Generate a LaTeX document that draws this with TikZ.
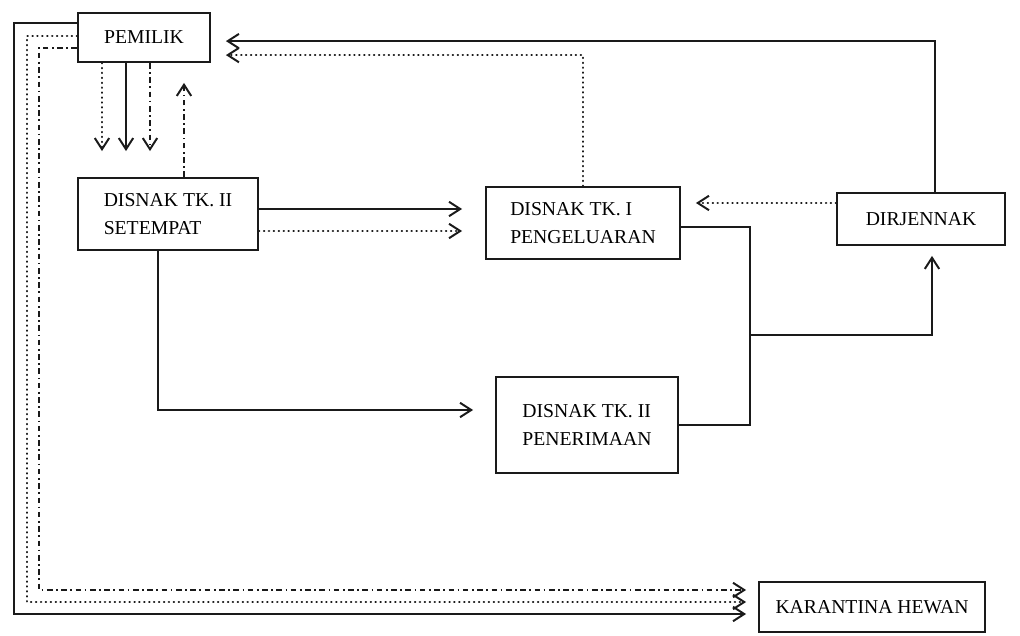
\documentclass[tikz,border=0pt]{standalone}
\usepackage{fontspec}
\setmainfont{Liberation Serif}
\usetikzlibrary{arrows.meta,calc}
\definecolor{inkBlack}{HTML}{1A1A1A}
\tikzset{
  orgbox/.style={rectangle, draw=inkBlack, line width=1.3pt, align=left, font=\fontsize{14}{20}\selectfont, inner sep=2pt},
  plainline/.style={draw=inkBlack, line width=1.2pt},
  solidflow/.style={plainline, -{Straight Barb[length=2.8mm,width=3.6mm,line width=1.4pt]}},
  dotflow/.style={solidflow, line width=1.5pt, line cap=round, dash pattern=on 0.3pt off 3.2pt},
  dashflow/.style={solidflow, dash pattern=on 4pt off 2.5pt on 1.2pt off 2.5pt},
}
\begin{document}
\begin{tikzpicture}[x=0.025cm,y=-0.025cm]
  \useasboundingbox (0,0) rectangle (1020,636);

  % --- boxes ---
  \node[orgbox, align=center, minimum width=3.3cm, minimum height=1.225cm] (pemilik) at (144,37.5) {PEMILIK};
  \node[orgbox, minimum width=4.5cm, minimum height=1.8cm] (setempat) at (168,214) {DISNAK TK. II\\SETEMPAT};
  \node[orgbox, minimum width=4.85cm, minimum height=1.8cm] (pengeluaran) at (583,223) {DISNAK TK. I\\PENGELUARAN};
  \node[orgbox, minimum width=4.2cm, minimum height=1.3cm] (dirjennak) at (921,219) {DIRJENNAK};
  \node[orgbox, minimum width=4.55cm, minimum height=2.4cm] (penerimaan) at (587,425) {DISNAK TK. II\\PENERIMAAN};
  \node[orgbox, minimum width=5.65cm, minimum height=1.25cm] (karantina) at (872,607) {KARANTINA HEWAN};

  % --- pemilik <-> setempat ---
  \foreach \dx/\sty in {-1.05/dotflow, -0.45/solidflow, 0.15/dashflow} {
    \coordinate (down) at ([xshift=\dx cm]pemilik.south);
    \draw[\sty, shorten >=0.65cm] (down) -- (down |- setempat.north);
  }
  \coordinate (up) at ([xshift=0.4cm]setempat.north);
  \draw[dashflow, shorten >=0.5cm] (up) -- (up |- pemilik.south);

  % --- setempat -> pengeluaran ---
  \coordinate (s1) at ([yshift=0.125cm]setempat.east);
  \coordinate (s2) at ([yshift=-0.425cm]setempat.east);
  \draw[solidflow, shorten >=0.575cm] (s1) -- (s1 -| pengeluaran.west);
  \draw[dotflow, shorten >=0.575cm] (s2) -- (s2 -| pengeluaran.west);

  % --- back to pemilik ---
  \coordinate (p1) at ([yshift=-0.44cm]pemilik.east);
  \coordinate (p2) at ([yshift=-0.09cm]pemilik.east);
  \coordinate (d1) at ([xshift=0.35cm]dirjennak.north);
  \draw[dotflow, shorten >=0.375cm] (pengeluaran.north) |- (p1);
  \draw[solidflow, shorten >=0.375cm] (d1) |- (p2);

  % --- dirjennak -> pengeluaran ---
  \coordinate (d2) at ([yshift=0.4cm]dirjennak.west);
  \draw[dotflow, shorten >=0.375cm] (d2) -- (d2 -| pengeluaran.east);

  % --- reports up to dirjennak ---
  \coordinate (mrg) at (750,335);
  \coordinate (d3) at ([xshift=0.275cm]dirjennak.south);
  \draw[plainline] ([yshift=-0.1cm]pengeluaran.east) -| (mrg);
  \draw[plainline] (penerimaan.east) -| (mrg);
  \draw[solidflow, shorten >=0.25cm] (mrg) -| (d3);

  % --- setempat -> penerimaan ---
  \coordinate (s3) at ([xshift=-0.25cm]setempat.south);
  \coordinate (r1) at ([yshift=0.375cm]penerimaan.west);
  \draw[solidflow, shorten >=0.55cm] (s3) |- (r1);

  % --- pemilik -> karantina ---
  \coordinate (q1) at ([yshift=0.36cm]pemilik.west);
  \coordinate (q2) at ([yshift=0.04cm]pemilik.west);
  \coordinate (q3) at ([yshift=-0.26cm]pemilik.west);
  \coordinate (k1) at ([yshift=-0.175cm]karantina.west);
  \coordinate (k2) at ([yshift=0.125cm]karantina.west);
  \coordinate (k3) at ([yshift=0.425cm]karantina.west);
  \draw[solidflow, shorten >=0.3cm] (q1) -| (14,0 |- k1) -- (k1);
  \draw[dotflow, shorten >=0.3cm] (q2) -| (27,0 |- k2) -- (k2);
  \draw[dashflow, shorten >=0.3cm] (q3) -| (39,0 |- k3) -- (k3);
\end{tikzpicture}
\end{document}
